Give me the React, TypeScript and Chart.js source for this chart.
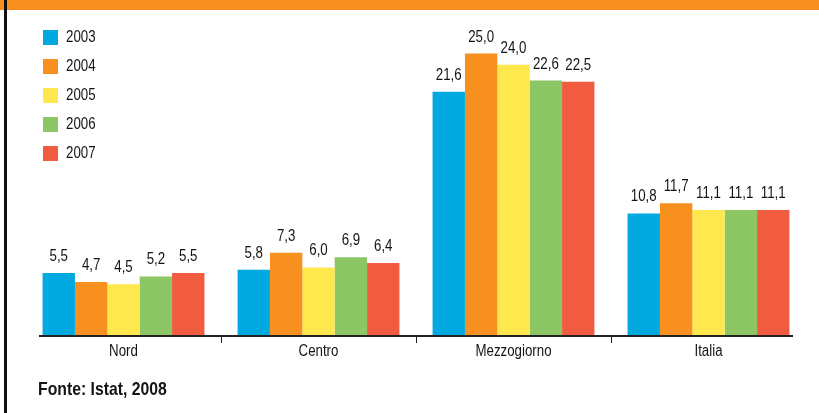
import { useEffect, useRef } from 'react';
import { Chart, registerables } from 'chart.js';

Chart.register(...registerables);

const categories = ['Nord', 'Centro', 'Mezzogiorno', 'Italia'];
const years = ['2003', '2004', '2005', '2006', '2007'];
const values2003 = [5.5, 5.8, 21.6, 10.8];
const values2004 = [4.7, 7.3, 25.0, 11.7];
const values2005 = [4.5, 6.0, 24.0, 11.1];
const values2006 = [5.2, 6.9, 22.6, 11.1];
const values2007 = [5.5, 6.4, 22.5, 11.1];
const seriesColors = ['#00A9E0', '#F7901E', '#FFE74E', '#8CC665', '#F15B40'];
const sourceText = 'Fonte: Istat, 2008';

const FONT = '"Liberation Sans", Arial, sans-serif';
const TEXT = '#141414';
const SQUEEZE = 0.83;

function condensedText(ctx: CanvasRenderingContext2D, text: string, x: number, y: number) {
  ctx.save();
  ctx.translate(x, y);
  ctx.scale(SQUEEZE, 1);
  ctx.fillText(text, 0, 0);
  ctx.restore();
}

const decorPlugin = {
  id: 'decor',
  beforeDraw(chart: any) {
    const { ctx, width, height } = chart;
    ctx.save();
    ctx.fillStyle = '#ffffff';
    ctx.fillRect(0, 0, width, height);
    ctx.fillStyle = '#F7901E';
    ctx.fillRect(0, 0, width, 10);
    ctx.fillStyle = '#111111';
    ctx.fillRect(4, 0, 3, height);
    ctx.restore();
  },
  afterDatasetsDraw(chart: any) {
    const { ctx, chartArea } = chart;
    const xScale = chart.scales.x;
    ctx.save();
    // data labels
    ctx.font = `16px ${FONT}`;
    ctx.fillStyle = TEXT;
    ctx.textAlign = 'center';
    ctx.textBaseline = 'alphabetic';
    chart.data.datasets.forEach((ds: any, di: number) => {
      const meta = chart.getDatasetMeta(di);
      meta.data.forEach((bar: any, i: number) => {
        const v = ds.data[i];
        condensedText(ctx, v.toFixed(1).replace('.', ','), bar.x, bar.y - 12);
      });
    });
    // axis line
    const y0 = chartArea.bottom;
    ctx.strokeStyle = '#222222';
    ctx.lineWidth = 2;
    ctx.beginPath();
    ctx.moveTo(chartArea.left + 13, y0 + 1);
    ctx.lineTo(chartArea.right - 13, y0 + 1);
    ctx.stroke();
    // tick marks between categories
    ctx.lineWidth = 1;
    for (let i = 0; i < categories.length - 1; i++) {
      const x = Math.round((xScale.getPixelForValue(i) + xScale.getPixelForValue(i + 1)) / 2) + 0.5;
      ctx.beginPath();
      ctx.moveTo(x, y0 + 1);
      ctx.lineTo(x, y0 + 8);
      ctx.stroke();
    }
    // category labels
    ctx.textAlign = 'center';
    ctx.textBaseline = 'middle';
    ctx.fillStyle = TEXT;
    categories.forEach((c, i) => {
      condensedText(ctx, c, xScale.getPixelForValue(i), y0 + 17);
    });
    // legend
    ctx.textAlign = 'left';
    chart.data.datasets.forEach((ds: any, di: number) => {
      const top = 30 + di * 29;
      ctx.fillStyle = ds.backgroundColor;
      ctx.fillRect(43, top, 15, 15);
      ctx.fillStyle = TEXT;
      condensedText(ctx, ds.label, 66, top + 8);
    });
    // source
    ctx.font = `bold 19px ${FONT}`;
    ctx.fillStyle = TEXT;
    ctx.textBaseline = 'alphabetic';
    condensedText(ctx, sourceText, 38, 395);
    ctx.restore();
  },
};

export default function App() {
  const ref = useRef<HTMLCanvasElement | null>(null);
  useEffect(() => {
    document.body.style.margin = '0';
    const allValues = [values2003, values2004, values2005, values2006, values2007];
    const chart = new Chart(ref.current as HTMLCanvasElement, {
      type: 'bar',
      data: {
        labels: categories,
        datasets: years.map((y, i) => ({
          label: y,
          data: allValues[i],
          backgroundColor: seriesColors[i],
          borderWidth: 0,
          barPercentage: 1,
          categoryPercentage: 0.83,
        })),
      },
      options: {
        responsive: false,
        animation: false,
        layout: { padding: { left: 26, right: 13, top: 31, bottom: 78 } },
        plugins: { legend: { display: false }, tooltip: { enabled: false } },
        scales: {
          x: { display: false },
          y: { display: false, min: 0, max: 27 },
        },
      },
      plugins: [decorPlugin],
    });
    return () => chart.destroy();
  }, []);
  return (
    <div style={{ width: 819, height: 413, position: 'relative' }}>
      <canvas ref={ref} width={819} height={413} />
    </div>
  );
}
